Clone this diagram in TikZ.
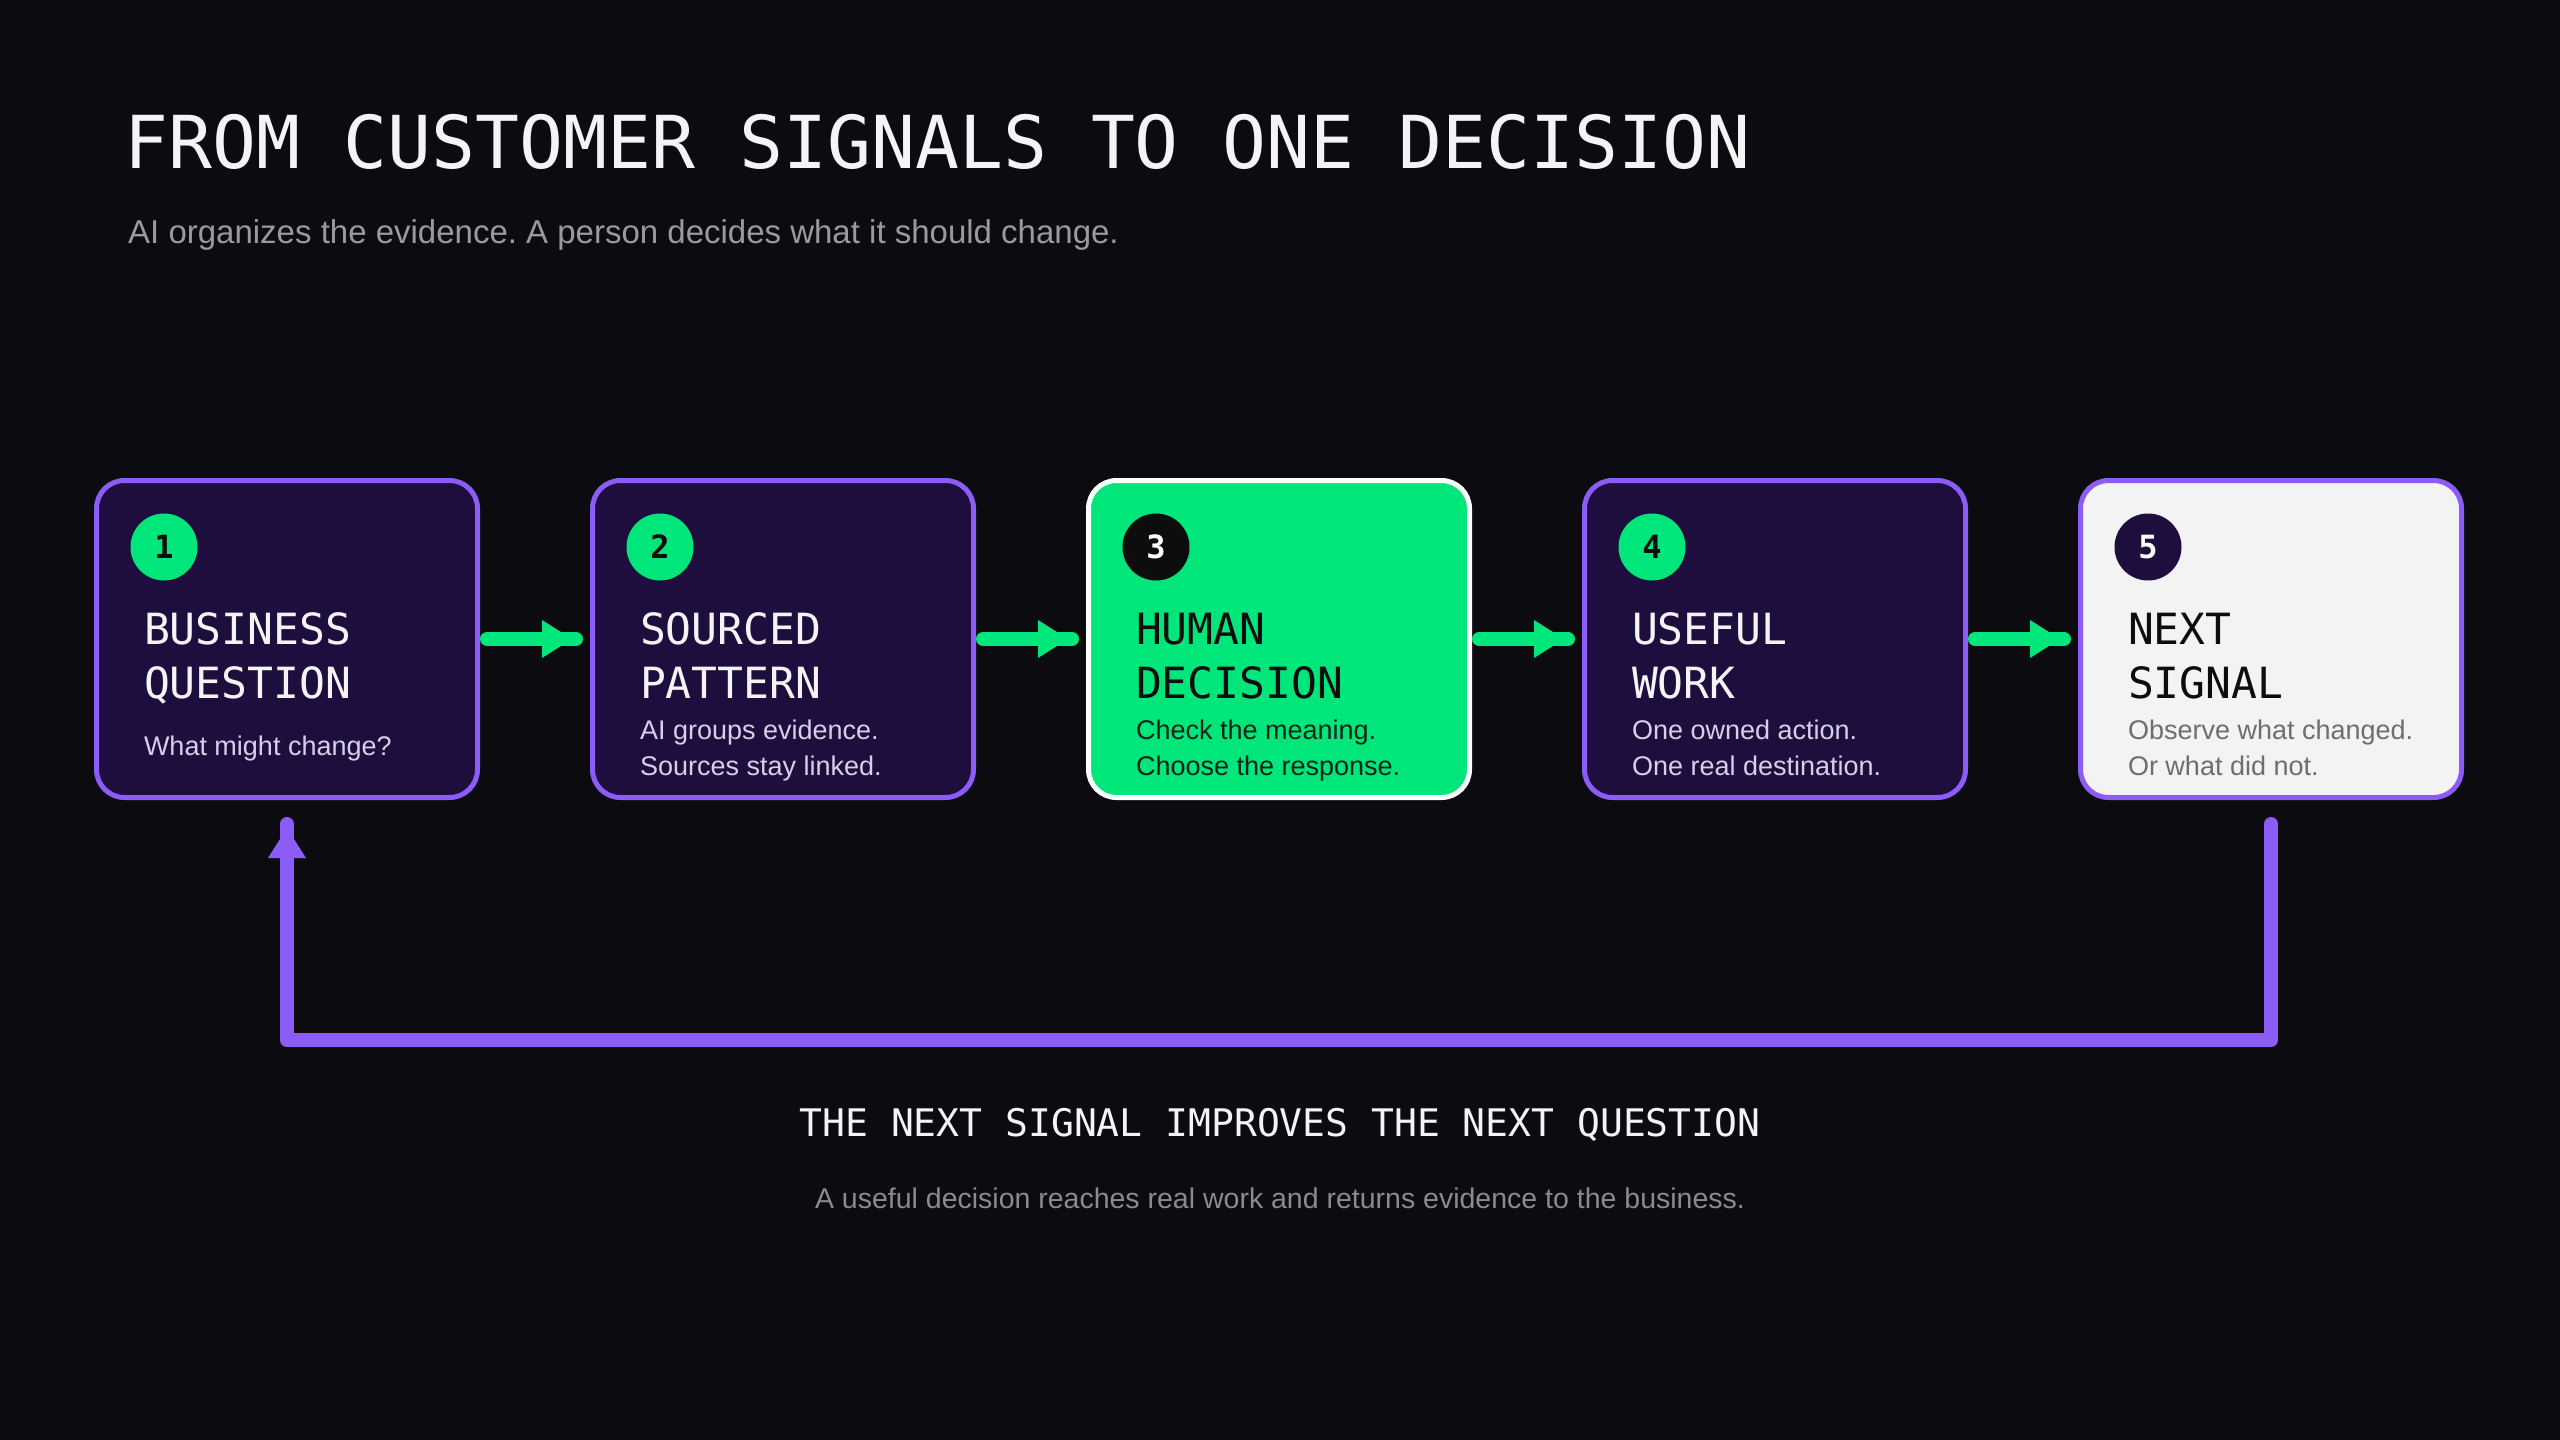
\documentclass[tikz,border=0pt]{standalone}
\usepackage{fontspec}
\setmainfont{Liberation Sans}
\newfontfamily\monofont{DejaVu Sans Mono}
\usetikzlibrary{positioning,decorations.markings}
\frenchspacing
\definecolor{bg}{HTML}{0B0B10}
\definecolor{plum}{HTML}{1E0E3E}
\definecolor{iris}{HTML}{8B5CF6}
\definecolor{signal}{HTML}{00E67A}
\definecolor{paper}{HTML}{F3F3F3}
\definecolor{ink}{HTML}{0D0D0D}
\definecolor{snow}{HTML}{F4F4F6}
\definecolor{lilac}{HTML}{D6CFEA}
\definecolor{ash}{HTML}{9A9A9E}
\definecolor{slate}{HTML}{6E6E72}
\tikzset{%
  tip/.style = { postaction={decorate, decoration={markings, mark=at position 1 with {\fill[#1] (-4pt,0pt) -- (-34pt,19pt) -- (-34pt,-19pt) -- cycle;}}} },
  flow/.style = { draw=signal, line width=14pt, line cap=round, tip=signal },
  backline/.style = { draw=iris, line width=14pt, line cap=round, line join=round, tip=iris },
  card/.style = { rounded corners=28pt, line width=5pt, minimum width=381pt, minimum height=317pt },
  card-dark/.style = { fill=plum, draw=iris },
  card-lit/.style = { fill=signal, draw=white },
  card-pale/.style = { fill=paper, draw=iris },
  badge/.style = { circle, minimum size=67pt, inner sep=0pt, font=\monofont\fontsize{32}{32}\selectfont\bfseries },
  badge-dark/.style = { fill=signal, text=ink },
  badge-lit/.style = { fill=ink, text=white },
  badge-pale/.style = { fill=plum, text=white },
  head/.style = { anchor=north west, inner sep=0pt, outer sep=0pt, align=left, font=\monofont\fontsize{43}{54}\selectfont },
  head-dark/.style = { text=snow },
  head-lit/.style = { text=ink },
  head-pale/.style = { text=ink },
  body/.style = { anchor=north west, inner sep=0pt, outer sep=0pt, align=left, font=\fontsize{27}{36}\selectfont },
  body-dark/.style = { text=lilac },
  body-lit/.style = { text=ink!90!signal },
  body-pale/.style = { text=slate },
  heading/.style = { inner sep=0pt, text=snow, font=\monofont\fontsize{73}{80}\selectfont },
  subheading/.style = { inner sep=0pt, text=ash, font=\fontsize{33}{40}\selectfont }
}

\begin{document}
\begin{tikzpicture}[x=1pt, y=-1pt]

  \useasboundingbox (0,0) rectangle (2560,1440);
  \fill[bg] (0,0) rectangle (2560,1440);

  % Title
  \node[heading, anchor=base west] (title) at (124,168) {FROM CUSTOMER SIGNALS TO ONE DECISION};
  \node[subheading, anchor=base west] (subtitle) at (128,243) {AI organizes the evidence. A person decides what it should change.};

  % Cards
  \node[card, card-dark] (b1) at (287,639) {};
  \node[card, card-dark, right=110pt of b1] (b2) {};
  \node[card, card-lit, right=110pt of b2] (b3) {};
  \node[card, card-dark, right=110pt of b3] (b4) {};
  \node[card, card-pale, right=110pt of b4] (b5) {};

  \foreach \i/\kind/\cardhead/\cardnote/\dy in {
    1/dark/{BUSINESS\\QUESTION}/{What might change?}/258,
    2/dark/{SOURCED\\PATTERN}/{AI groups evidence.\\Sources stay linked.}/242,
    3/lit/{HUMAN\\DECISION}/{Check the meaning.\\Choose the response.}/242,
    4/dark/{USEFUL\\WORK}/{One owned action.\\One real destination.}/242,
    5/pale/{NEXT\\SIGNAL}/{Observe what changed.\\Or what did not.}/242} {
    \node[badge, badge-\kind] (n\i) at ([shift={(70,69)}]b\i.north west) {\i};
    \node[head, head-\kind] (t\i) at ([shift={(50,135)}]b\i.north west) {\cardhead};
    \node[body, body-\kind] (d\i) at ([shift={(50,\dy)}]b\i.north west) {\cardnote};
  }

  % Forward arrows
  \foreach \a/\b in {1/2,2/3,3/4,4/5} {
    \draw[flow] ([xshift=7pt]b\a.east) -- ([xshift=-14pt]b\b.west);
  }

  % Return loop
  \coordinate (sout) at ([shift={(0,24)}]b5.south);
  \coordinate (qin) at ([shift={(0,24)}]b1.south);
  \draw[backline] (sout) -- ++(0,216) -| (qin);

  % Caption
  \node[inner sep=0pt, anchor=base, text=snow, font=\monofont\fontsize{38}{44}\selectfont] (loopnote) at (1280,1136) {THE NEXT SIGNAL IMPROVES THE NEXT QUESTION};
  \node[inner sep=0pt, anchor=base, text=ash!90!black, font=\fontsize{28.5}{34}\selectfont] (loopsub) at (1280,1208) {A useful decision reaches real work and returns evidence to the business.};

\end{tikzpicture}
\end{document}
